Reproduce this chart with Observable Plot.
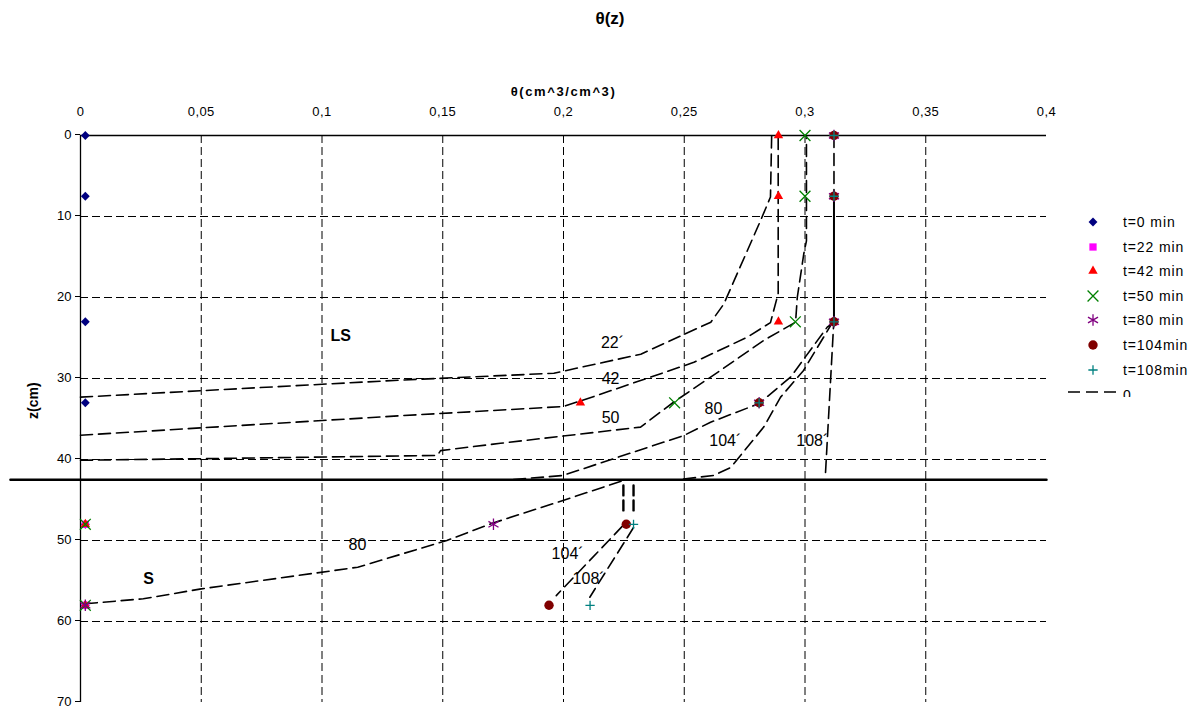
<!DOCTYPE html>
<html><head><meta charset="utf-8">
<script src="https://cdn.jsdelivr.net/npm/d3@7"></script>
<script src="https://cdn.jsdelivr.net/npm/@observablehq/plot@0.6"></script>
<style>
body{margin:0;background:#fff;font-family:"Liberation Sans",Arial,sans-serif;}
#wrap{position:relative;width:1201px;height:708px;overflow:hidden;background:#fff;}
#wrap>svg{position:absolute;left:0;top:0;}
#title{position:absolute;top:9px;left:0;width:1220px;text-align:center;font-weight:bold;font-size:17px;}
#legend{position:absolute;left:1060px;top:205px;width:141px;height:192px;overflow:hidden;}
.row{position:absolute;left:0;height:20px;width:141px;}
.row svg{position:absolute;left:0;top:0;}
.row span{position:absolute;left:63px;top:0;font-size:14px;letter-spacing:0.9px;line-height:20px;white-space:nowrap;}
</style></head>
<body>
<div id="wrap"><div id="title">θ(z)</div><div id="legend"></div></div>
<script>
// ---- data ----
const depth = [0, 7.5, 23, 33, 48, 58];
const seriesNames = ["t=0 min","t=22 min","t=42 min","t=50 min","t=80 min","t=104min","t=108min"];
const t0   = [0.002, 0.002, 0.002, 0.002, 0.002, 0.002];
const t22  = [0.312, 0.312, 0.312, null, 0.002, 0.002];
const t42  = [0.289, 0.289, 0.289, 0.207, 0.002, 0.002];
const t50  = [0.300, 0.300, 0.296, 0.246, 0.002, 0.002];
const t80  = [0.312, 0.312, 0.312, 0.281, 0.171, 0.002];
const t104 = [0.312, 0.312, 0.312, 0.281, 0.226, 0.194];
const t108 = [0.312, 0.312, 0.312, 0.281, 0.229, 0.211];

const xTicks = [0, 0.05, 0.1, 0.15, 0.2, 0.25, 0.3, 0.35, 0.4];
const xTickLabels = ["0","0,05","0,1","0,15","0,2","0,25","0,3","0,35","0,4"];
const xGrid = [0.05, 0.1, 0.15, 0.2, 0.25, 0.3, 0.35];
const yTicks = [0, 10, 20, 30, 40, 50, 60, 70];
const yGrid = [10, 20, 30, 40, 50, 60];

// hand-drawn isochrones [theta, z]
const curve22  = [[0,32.3],[0.1325,30.2],[0.196,29.35],[0.232,27.0],[0.261,23.05],[0.2664,20.8],[0.2816,10.5],[0.2857,7.6],[0.2862,0]];
const curve42  = [[0,37.0],[0.1325,34.6],[0.200,33.46],[0.2098,32.5],[0.254,28.0],[0.2761,24.9],[0.2857,23.1],[0.2889,19.5],[0.2889,0]];
const curve50  = [[0,40.1],[0.1478,39.5],[0.1491,38.9],[0.1739,38.0],[0.2319,36.0],[0.2457,32.9],[0.265,29.0],[0.2829,25.3],[0.2961,23.05],[0.2968,20.0],[0.2995,14.6],[0.3006,13.0],[0.3006,0]];
const curve80  = [[0.1793,42.47],[0.1996,41.98],[0.2498,37.04],[0.2609,35.4],[0.2809,33.1],[0.294,29.84],[0.3092,23.66],[0.3118,23.09]];
const curve104 = [[0.2497,42.4],[0.2621,41.98],[0.2692,41.0],[0.2829,36.0],[0.2899,32.3],[0.2994,29.0],[0.3106,23.46],[0.3118,23.09]];
const curve108 = [[0.3085,41.6],[0.3119,23.1]];
const curve80S = [[0.002,57.8],[0.026,57.2],[0.05,55.97],[0.1148,53.3],[0.1517,50.0],[0.1702,47.9],[0.1998,45.06],[0.2257,42.5]];
const curve104S = [[0.2245,48.2],[0.197,56.8]];
const curve108S = [[0.229,48.4],[0.2109,57.0]];
const stem104 = [[0.2248,43.2],[0.2248,46.6]];
const stem108 = [[0.229,43.2],[0.229,46.6]];
const satDashed = [[0.312,0],[0.312,7.5]];
const satSolid = [[0.312,7.5],[0.312,23]];
const boundary = [[-0.029,42.5],[0.4,42.5]];

const labelText  = ["22´","42","50","80","104´","108´","80","104´","108´"];
const labelTheta = [0.2203,0.2195,0.2195,0.2621,0.267,0.303,0.1147,0.2017,0.2104];
const labelZ     = [25.55,30.0,34.8,33.7,37.65,37.65,50.5,51.6,54.7];
const layerText  = ["LS","S"];
const layerTheta = [0.1077,0.0282];
const layerZ     = [24.7,54.7];

// ---- styles ----
const styles = [
  {sym:"diamond2", color:"#000080", r:4,   filled:true},
  {sym:"square",   color:"#FF00FF", r:4.1, filled:true},
  {sym:"triangle", color:"#FF0000", r:3.5, filled:true},
  {sym:"times",    color:"#008000", r:5,   filled:false},
  {sym:"asterisk", color:"#800080", r:5.5, filled:false},
  {sym:"circle",   color:"#800000", r:4.7, filled:true},
  {sym:"plus",     color:"#008080", r:3.1, filled:false}
];
const allSeries = [t0,t22,t42,t50,t80,t104,t108];

const toRows = (pts) => pts.map(([x,y]) => ({x, y}));
const dashCurves = [curve22,curve42,curve50,curve80,curve104,curve108,curve80S,curve104S,curve108S,satDashed];
const font = '"Liberation Sans", Arial, sans-serif';

const marks = [
  Plot.gridX(xGrid, {stroke:"black", strokeOpacity:1, strokeWidth:1, strokeDasharray:"8,4"}),
  Plot.gridY(yGrid, {stroke:"black", strokeOpacity:1, strokeWidth:1, strokeDasharray:"8,4"}),
  Plot.ruleX([0], {stroke:"black", strokeWidth:1.3}),
  Plot.ruleY([0], {stroke:"black", strokeWidth:1.3}),
  Plot.axisX(xTicks, {anchor:"top", tickSize:0, tickPadding:20, label:null, fontSize:13,
    tickFormat: d => xTickLabels[xTicks.indexOf(d)], className:"xt"}),
  Plot.axisY(yTicks, {anchor:"left", tickSize:5, tickPadding:4, label:null, fontSize:13, dy:-1}),
  Plot.text(["θ(cm^3/cm^3)"], {frameAnchor:"top", dy:-49, fontWeight:"bold", fontSize:13, className:"xlab"}),
  Plot.text(["z(cm)"], {frameAnchor:"left", rotate:-90, dx:-47, fontWeight:"bold", fontSize:14}),
  ...dashCurves.map(c => Plot.line(toRows(c), {x:"x", y:"y", stroke:"black", strokeWidth:1.6, strokeDasharray:"12,6"})),
  Plot.line(toRows(stem104), {x:"x", y:"y", stroke:"black", strokeWidth:2.4, strokeDasharray:"10,5"}),
  Plot.line(toRows(stem108), {x:"x", y:"y", stroke:"black", strokeWidth:2.4, strokeDasharray:"10,5"}),
  Plot.line(toRows(satSolid), {x:"x", y:"y", stroke:"black", strokeWidth:2}),
  Plot.line(toRows(boundary), {x:"x", y:"y", stroke:"black", strokeWidth:2.5}),
  Plot.text(labelText.map((t,i)=>({t, x:labelTheta[i], y:labelZ[i]})), {x:"x", y:"y", text:"t", fontSize:16}),
  Plot.text(layerText.map((t,i)=>({t, x:layerTheta[i], y:layerZ[i]})), {x:"x", y:"y", text:"t", fontSize:16, fontWeight:"bold"}),
  ...allSeries.map((vals, k) => {
    const s = styles[k];
    const rows = depth.map((z,i)=>({x: vals[i], y: z})).filter(d => d.x != null);
    return Plot.dot(rows, s.filled
      ? {x:"x", y:"y", symbol: s.sym, r: s.r, fill: s.color, stroke: "none"}
      : {x:"x", y:"y", symbol: s.sym, r: s.r, fill: "none", stroke: s.color, strokeWidth: 1.3});
  })
];

const chart = Plot.plot({
  width: 1201, height: 708,
  marginLeft: 80, marginRight: 155, marginTop: 135, marginBottom: 6,
  x: {domain: [0, 0.4]},
  y: {domain: [0, 70], reverse: true},
  style: {fontFamily: font, fontSize: "12px", color: "black", background: "white", overflow: "visible"},
  marks
});
d3.select(chart).selectAll(".xlab text").style("letter-spacing", "1.6px");
d3.select(chart).selectAll(".xt text").style("letter-spacing", "0.4px");
document.getElementById("wrap").insertBefore(chart, document.getElementById("title"));

// ---- legend ----
const symMap = {diamond2: d3.symbolDiamond2, square: d3.symbolSquare, triangle: d3.symbolTriangle,
  times: d3.symbolTimes, asterisk: d3.symbolAsterisk, circle: d3.symbolCircle, plus: d3.symbolPlus};
const rowCenters = [222, 247, 271, 296, 320, 345, 370, 395];
const legend = d3.select("#legend");
seriesNames.forEach((name, k) => {
  const s = styles[k];
  const row = legend.append("div").attr("class","row").style("top", (rowCenters[k]-205-10)+"px");
  const svg = row.append("svg").attr("width", 60).attr("height", 20);
  svg.append("path")
    .attr("transform", "translate(33,10)")
    .attr("d", d3.symbol(symMap[s.sym], Math.PI*s.r*s.r)())
    .attr("fill", s.filled ? s.color : "none")
    .attr("stroke", s.filled ? "none" : s.color)
    .attr("stroke-width", 1.3);
  row.append("span").text(name);
});
{
  const row = legend.append("div").attr("class","row").style("top", (rowCenters[7]-205-10)+"px");
  const svg = row.append("svg").attr("width", 60).attr("height", 20);
  svg.append("line").attr("x1", 8).attr("x2", 56).attr("y1", 7).attr("y2", 7)
    .attr("stroke","black").attr("stroke-width",1.5).attr("stroke-dasharray","12,6");
  row.append("span").text("0");
}
</script>
</body></html>
